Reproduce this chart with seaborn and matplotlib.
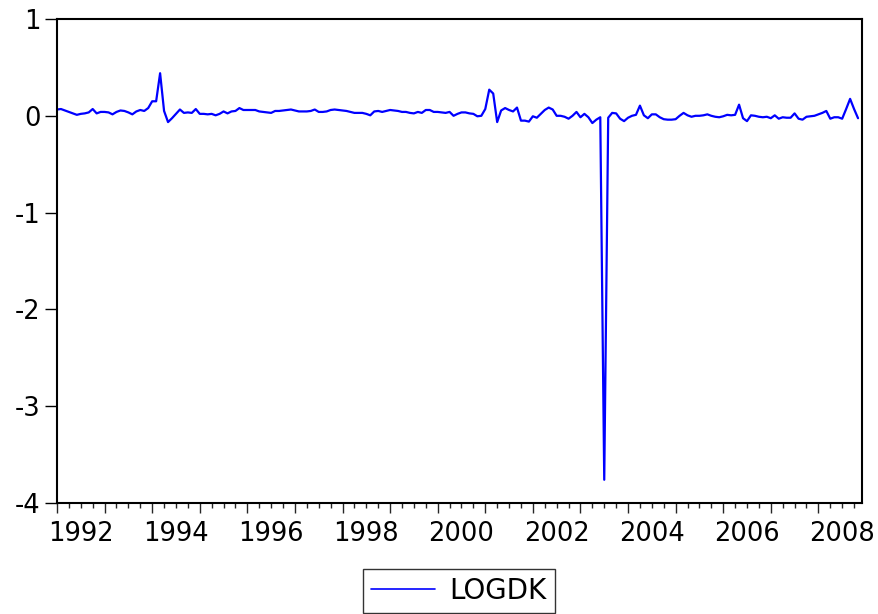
import numpy as np
import pandas as pd
import matplotlib
matplotlib.use("Agg")
import matplotlib.pyplot as plt
import seaborn as sns

# ---- data: monthly LOGDK, Jan 1992 .. Nov 2008 ----
start_month = "1992-01"
series_name = "LOGDK"
logdk = [
    # 1992
    0.065, 0.07, 0.055, 0.04, 0.025, 0.01, 0.02, 0.025, 0.035, 0.07, 0.025, 0.04,
    # 1993
    0.04, 0.035, 0.015, 0.04, 0.055, 0.05, 0.035, 0.015, 0.045, 0.06, 0.05, 0.08,
    # 1994
    0.15, 0.15, 0.44, 0.05, -0.065, -0.025, 0.02, 0.065, 0.03, 0.035, 0.03, 0.07,
    # 1995
    0.02, 0.02, 0.015, 0.02, 0.005, 0.02, 0.045, 0.025, 0.045, 0.05, 0.08, 0.06,
    # 1996
    0.06, 0.06, 0.06, 0.045, 0.04, 0.035, 0.03, 0.05, 0.05, 0.055, 0.06, 0.065,
    # 1997
    0.055, 0.045, 0.045, 0.045, 0.05, 0.065, 0.04, 0.04, 0.045, 0.06, 0.065, 0.06,
    # 1998
    0.055, 0.05, 0.04, 0.03, 0.03, 0.03, 0.02, 0.005, 0.045, 0.05, 0.04, 0.05,
    # 1999
    0.06, 0.055, 0.05, 0.04, 0.04, 0.03, 0.025, 0.04, 0.03, 0.06, 0.06, 0.04,
    # 2000
    0.04, 0.035, 0.03, 0.04, 0.0, 0.02, 0.035, 0.035, 0.025, 0.02, -0.005, 0.0,
    # 2001
    0.07, 0.27, 0.23, -0.065, 0.055, 0.08, 0.06, 0.045, 0.085, -0.05, -0.05, -0.06,
    # 2002
    -0.005, -0.02, 0.02, 0.06, 0.085, 0.065, 0.0, 0.0, -0.01, -0.03, 0.0, 0.04,
    # 2003
    -0.015, 0.02, -0.015, -0.075, -0.04, -0.015, -3.76, -0.02, 0.03, 0.025, -0.03, -0.055,
    # 2004
    -0.02, 0.0, 0.01, 0.105, 0.005, -0.025, 0.015, 0.015, -0.015, -0.035, -0.04, -0.04,
    # 2005
    -0.035, 0.0, 0.03, 0.005, -0.01, 0.0, 0.0, 0.005, 0.015, 0.0, -0.01, -0.015,
    # 2006
    -0.005, 0.01, 0.005, 0.01, 0.115, -0.025, -0.055, 0.005, 0.0, -0.01, -0.015, -0.01,
    # 2007
    -0.025, 0.005, -0.03, -0.015, -0.02, -0.02, 0.025, -0.03, -0.04, -0.01, -0.005, 0.0,
    # 2008
    0.015, 0.03, 0.05, -0.03, -0.015, -0.015, -0.03, 0.07, 0.175, 0.07, -0.025,
]
y_ticks = [1, 0, -1, -2, -3, -4]
x_label_years = [1992, 1994, 1996, 1998, 2000, 2002, 2004, 2006, 2008]

dates = pd.date_range(start_month, periods=len(logdk), freq="MS")
t = dates.year + (dates.month - 1) / 12.0
df = pd.DataFrame({"t": t, series_name: logdk})

sns.set_style("ticks")
plt.rcParams["font.family"] = ["DejaVu Sans"]
plt.rcParams["text.color"] = "black"

fig = plt.figure(figsize=(8.79, 6.14), dpi=100)
ax = fig.add_axes([57 / 879, 1 - 503 / 614, (862 - 57) / 879, (503 - 19) / 614])

sns.lineplot(data=df, x="t", y=series_name, color="#0000FF", lw=1.6,
             ax=ax, label=series_name, legend=False)

ax.set_xlim(t[0], t[-1] + 1 / 12.0)
ax.set_ylim(-4, 1)
ax.set_xlabel("")
ax.set_ylabel("")

for s in ax.spines.values():
    s.set_visible(True)
    s.set_color("black")
    s.set_linewidth(1.5)

# y axis
ax.set_yticks(y_ticks)
ax.set_yticklabels([str(v) for v in y_ticks])
ax.tick_params(axis="y", which="major", direction="out", length=9, width=1.0,
               labelsize=18.5, pad=3, colors="black")

# x axis: year ticks (long) + quarterly minor ticks, labels at mid-year of even years
years = np.arange(1992, 2009)
ax.set_xticks(years)
ax.set_xticklabels([])
ax.set_xticks(np.arange(1992, t[-1] + 1 / 12.0 + 1e-6, 0.25), minor=True)
ax.tick_params(axis="x", which="major", direction="out", length=7.5, width=1.0)
ax.tick_params(axis="x", which="minor", direction="out", length=3.8, width=1.0)

sec = ax.secondary_xaxis("bottom")
sec.set_xticks([y + 0.5 for y in x_label_years])
sec.set_xticklabels([str(y) for y in x_label_years])
sec.tick_params(axis="x", length=0, labelsize=18.5, pad=13, colors="black")
sec.spines["bottom"].set_visible(False)

handles, labels = ax.get_legend_handles_labels()
leg = fig.legend(handles, labels, loc="center", bbox_to_anchor=(459 / 879, 1 - 591 / 614),
                 frameon=True, fancybox=False, edgecolor="black", fontsize=20,
                 handlelength=2.3, handletextpad=0.5, borderpad=0.3, borderaxespad=0)
leg.get_frame().set_linewidth(1.0)
for txt in leg.get_texts():
    txt.set_color("black")
for line in leg.get_lines():
    line.set_linewidth(1.2)

fig.savefig("out.png", dpi=100)
